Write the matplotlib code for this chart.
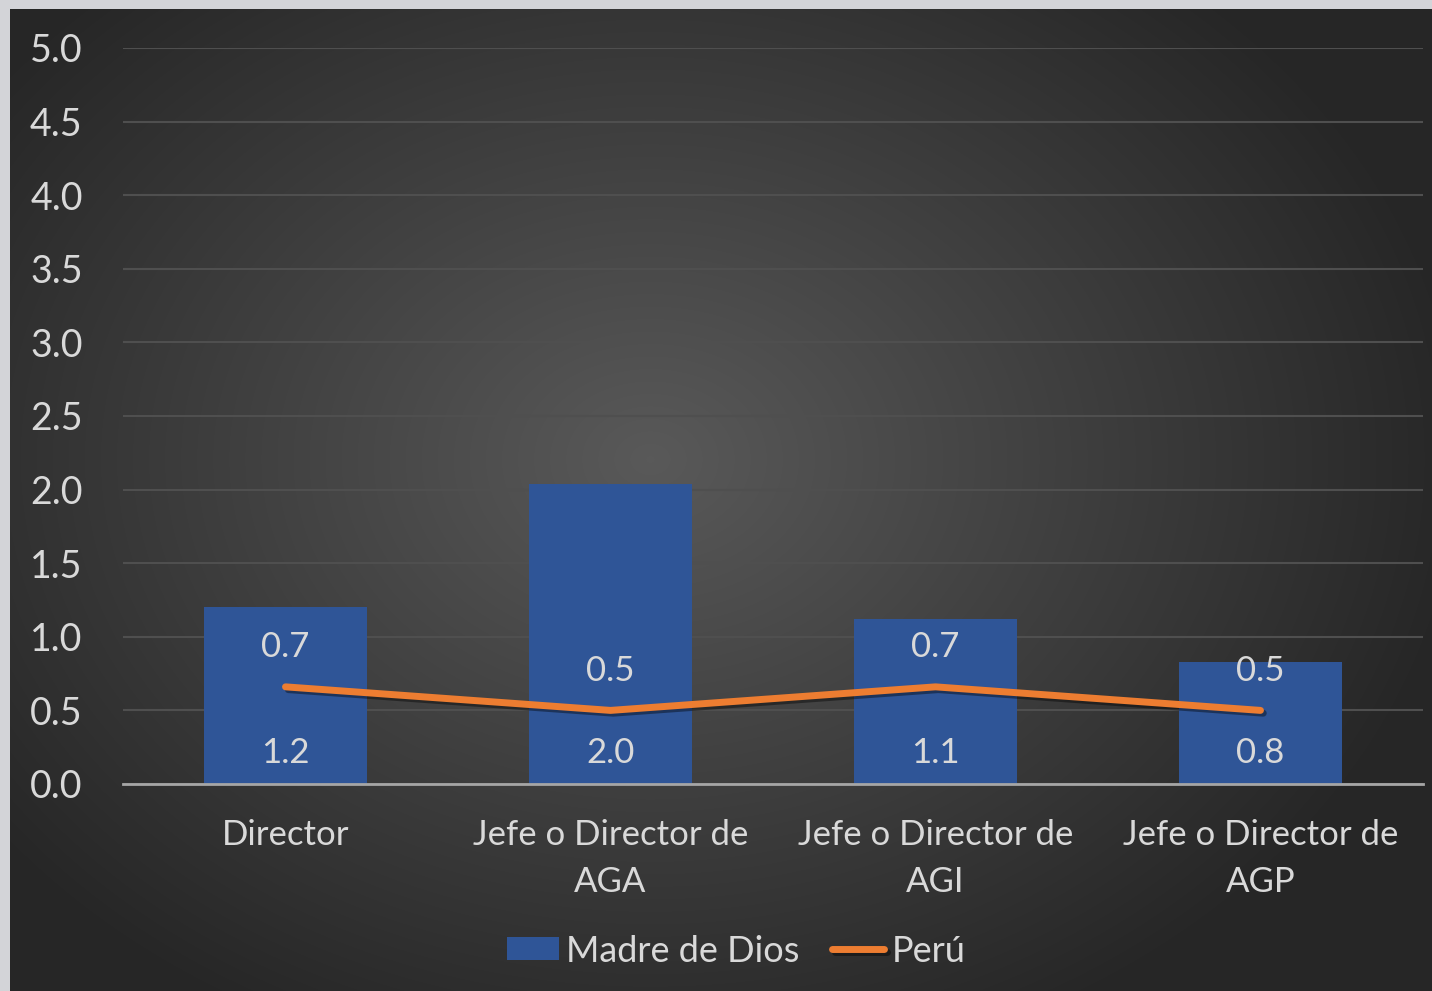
import numpy as np
import matplotlib
matplotlib.use('Agg')
import matplotlib.pyplot as plt
import matplotlib.patheffects as pe

# data
categories = ['Director', 'Jefe o Director de\nAGA', 'Jefe o Director de\nAGI', 'Jefe o Director de\nAGP']
madre_de_dios = [1.2, 2.04, 1.12, 0.83]
peru = [0.66, 0.5, 0.66, 0.5]
yticks = [0.0, 0.5, 1.0, 1.5, 2.0, 2.5, 3.0, 3.5, 4.0, 4.5, 5.0]

plt.rcParams['font.family'] = ['Lato', 'DejaVu Sans']
txt = '#d9d9d9'
W, H = 1432, 991

fig = plt.figure(figsize=(W / 100, H / 100), dpi=100)
fig.patch.set_facecolor('#d3d4d8')

# dark panel with radial gradient
bg = fig.add_axes([10 / W, 0, 1422 / W, 982 / H])
yy, xx = np.mgrid[0:982, 0:1422]
r = np.sqrt(((xx - 640) / 900.0) ** 2 + ((yy - 450) / 700.0) ** 2)
g = np.clip(0.35 - 0.22 * r, 0.15, 0.35)
bg.imshow(np.dstack([g, g, g]), aspect='auto', extent=[0, 1, 0, 1])
bg.axis('off')

ax = fig.add_axes([123 / W, (H - 784) / H, 1300 / W, 736 / H])
ax.patch.set_alpha(0)
x = np.arange(len(categories))

bars = ax.bar(x, madre_de_dios, width=0.5, color='#2f5597', label='Madre de Dios', zorder=2)
line, = ax.plot(x, peru, color='#ed7d31', lw=5, solid_capstyle='round', label='Perú', zorder=3,
                path_effects=[pe.SimpleLineShadow(offset=(2, -2), alpha=0.4), pe.Normal()])

for xi, v in zip(x, madre_de_dios):
    ax.text(xi, 0.21, f'{v:.1f}', ha='center', va='center', color=txt, fontsize=25, zorder=4)
for xi, v in zip(x, peru):
    ax.text(xi, v + 0.27, f'{v:.1f}', ha='center', va='center', color=txt, fontsize=25, zorder=4)

ax.set_xlim(-0.5, 3.5)
ax.set_ylim(0, 5.0)
ax.set_yticks(yticks)
ax.set_yticklabels([f'{t:.1f}' for t in yticks])
ax.set_xticks(x)
ax.set_xticklabels(categories, linespacing=1.6)
ax.tick_params(axis='y', colors=txt, labelsize=27, length=0, pad=29)
ax.tick_params(axis='x', colors=txt, labelsize=25, length=0, pad=25)
ax.grid(axis='y', color='#4f4f4f', lw=1.5, zorder=0)
ax.set_axisbelow(True)
for s in ['top', 'right', 'left']:
    ax.spines[s].set_visible(False)
ax.spines['bottom'].set_color('#a6a6a6')
ax.spines['bottom'].set_linewidth(2)
ax.spines['bottom'].set_zorder(5)

leg = fig.legend([bars, line], ['Madre de Dios', 'Perú'], loc='center',
                 bbox_to_anchor=(736 / W, 1 - 951 / H), ncol=2, frameon=False,
                 fontsize=26, labelcolor=txt, handlelength=1.45, handleheight=0.6,
                 handletextpad=0.2, columnspacing=0.9)

fig.savefig('out.png', dpi=100, facecolor=fig.get_facecolor())
